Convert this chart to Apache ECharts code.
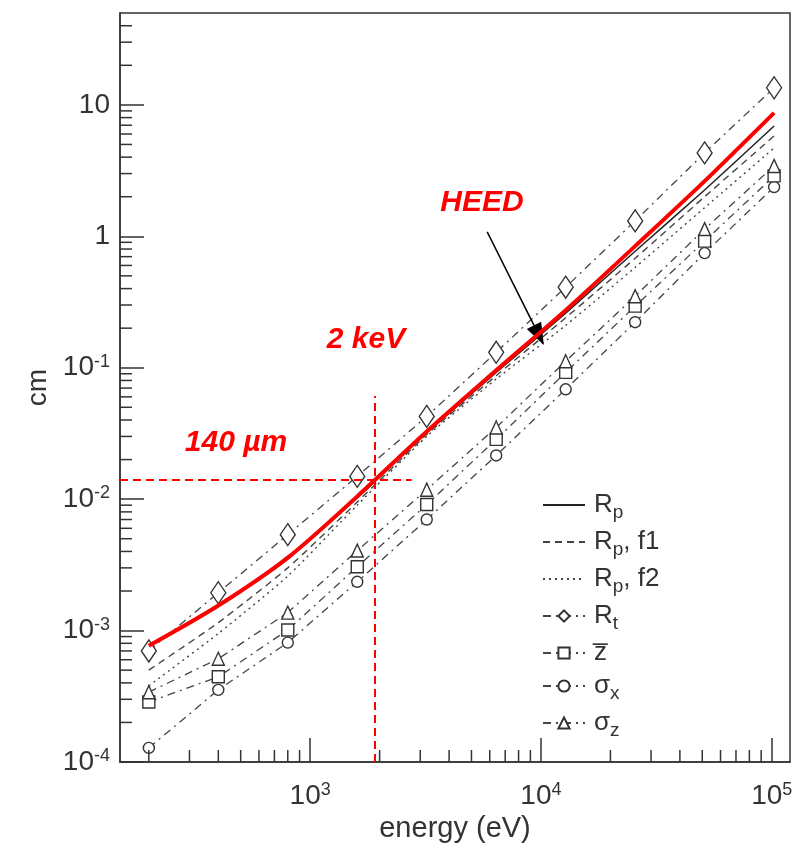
<!DOCTYPE html>
<html><head><meta charset="utf-8">
<script src="https://cdn.jsdelivr.net/npm/echarts@6/dist/echarts.min.js"></script>
<style>html,body{margin:0;padding:0;background:#fff}#c{width:802px;height:844px}</style>
</head><body><div id="c"></div>
<script>
// ---- data ----
const energy = [200, 400, 800, 1600, 3200, 6400, 12800, 25600, 51200, 102400];
const heed   = [7.66e-4, 1.55e-3, 3.59e-3, 0.0105, 0.0327, 0.0955, 0.274, 0.842, 2.63, 8.69];
const rp     = [7.6e-4, 1.52e-3, 3.5e-3, 0.0102, 0.032, 0.092, 0.26, 0.77, 2.25, 6.9];
const rpF1   = [5.0e-4, 1.15e-3, 3.0e-3, 9.5e-3, 0.031, 0.087, 0.24, 0.68, 2.0, 5.8];
const rpF2   = [3.8e-4, 9.5e-4, 2.6e-3, 9.0e-3, 0.030, 0.082, 0.21, 0.58, 1.65, 4.7];
const rt     = [7.0e-4, 1.94e-3, 5.37e-3, 0.0149, 0.0426, 0.131, 0.41, 1.31, 4.31, 13.5];
const zbar   = [2.86e-4, 4.45e-4, 1.01e-3, 3.06e-3, 9.1e-3, 0.0285, 0.0922, 0.294, 0.919, 2.88];
const sigmaX = [1.28e-4, 3.54e-4, 8.1e-4, 2.35e-3, 7.0e-3, 0.0215, 0.0685, 0.222, 0.745, 2.37];
const sigmaZ = [3.4e-4, 6.1e-4, 1.37e-3, 4.06e-3, 0.0118, 0.0351, 0.112, 0.350, 1.135, 3.43];

const xTickValues = [1e3, 1e4, 1e5];
const xTickLabels = ['10^3', '10^4', '10^5'];
const yTickValues = [1e-4, 1e-3, 1e-2, 1e-1, 1, 10];
const yTickLabels = ['10^-4', '10^-3', '10^-2', '10^-1', '1', '10'];
const xMinorTicks = [200,300,400,500,600,700,800,900,2000,3000,4000,5000,6000,7000,8000,9000,
                     20000,30000,40000,50000,60000,70000,80000,90000];
const yMinorTicks = [2e-4,3e-4,4e-4,5e-4,6e-4,7e-4,8e-4,9e-4,2e-3,3e-3,4e-3,5e-3,6e-3,7e-3,8e-3,9e-3,
                     0.02,0.03,0.04,0.05,0.06,0.07,0.08,0.09,0.2,0.3,0.4,0.5,0.6,0.7,0.8,0.9,
                     2,3,4,5,6,7,8,9,20,30,40];
const xRange = [150, 120000];
const yRange = [1e-4, 50];
const keV2 = 1900, um140 = 0.014, hLineEnd = 2750, vLineTop = 0.061;
const arrowFrom = [5850, 1.08], arrowTo = [9800, 0.177];

// ---- helpers ----
const FONT = "'Liberation Sans', Arial, Helvetica, sans-serif";
const AX = '#333';
const GRAY = '#444';
function toRich(s) { const p = s.split('^'); return p[1] ? '{m|' + p[0] + '}{s|' + p[1] + '}' : '{m|' + p[0] + '}'; }
function findLabel(vals, labels, v) {
  const i = vals.findIndex(t => Math.abs(Math.log10(t) - Math.log10(v)) < 1e-6);
  return i < 0 ? '' : toRich(labels[i]);
}
const pairs = arr => energy.map((e, i) => [e, arr[i]]);
const labelRich = {
  m: {fontSize: 28, fontFamily: FONT, color: AX, lineHeight: 30},
  s: {fontSize: 18, fontFamily: FONT, color: AX, lineHeight: 16, verticalAlign: 'top'}
};
const legendText = {
  'Rp': '{m|R}{s|p}',
  'Rp, f1': '{m|R}{s|p}{m|, f1}',
  'Rp, f2': '{m|R}{s|p}{m|, f2}',
  'Rt': '{m|R}{s|t}',
  'zbar': '{m|z\u0305}',
  'sx': '{m|\u03c3}{s|x}',
  'sz': '{m|\u03c3}{s|z}'
};

function markerSeries(name, data, symbol, size, dash) {
  return {
    name, type: 'line', data: pairs(data), symbol, symbolSize: size,
    showAllSymbol: true,
    lineStyle: {color: GRAY, width: 1.3, type: dash},
    itemStyle: {color: '#fff', borderColor: '#333', borderWidth: 1.4},
    emphasis: {disabled: true}, z: 3
  };
}
function plainLine(name, data, color, width, dash) {
  return {name, type: 'line', data: pairs(data), symbol: 'none', smooth: 0.2,
    lineStyle: {color, width, type: dash}, itemStyle: {color, opacity: 0}, emphasis: {disabled: true}, z: 2};
}

const option = {
  animation: false,
  backgroundColor: '#fff',
  grid: {left: 120, right: 12, top: 13, bottom: 82, show: true, borderColor: AX, borderWidth: 1.5,
         backgroundColor: 'transparent', containLabel: false, outerBoundsMode: 'none'},
  xAxis: {
    type: 'log', logBase: 10, min: xRange[0], max: xRange[1],
    name: 'energy (eV)', nameLocation: 'middle', nameGap: 52,
    nameTextStyle: {fontSize: 29, fontFamily: FONT, color: AX},
    axisLine: {show: true, lineStyle: {color: AX, width: 1.5}},
    axisTick: {show: true, inside: true, length: 24, lineStyle: {color: AX, width: 1.5}},
    splitLine: {show: false}, minorTick: {show: false},
    axisLabel: {margin: 19, showMinLabel: false, showMaxLabel: false,
      formatter: v => findLabel(xTickValues, xTickLabels, v), rich: labelRich}
  },
  yAxis: {
    type: 'log', logBase: 10, min: yRange[0], max: yRange[1],
    name: 'cm', nameLocation: 'middle', nameGap: 66, nameRotate: 90,
    nameTextStyle: {fontSize: 28, fontFamily: FONT, color: AX},
    axisLine: {show: true, lineStyle: {color: AX, width: 1.5}},
    axisTick: {show: true, inside: true, length: 24, lineStyle: {color: AX, width: 1.5}},
    splitLine: {show: false}, minorTick: {show: false},
    axisLabel: {margin: 10, showMaxLabel: false,
      formatter: v => findLabel(yTickValues, yTickLabels, v), rich: labelRich}
  },
  legend: {
    orient: 'vertical', left: 537, top: 487, itemGap: 7, itemWidth: 42, itemHeight: 14,
    data: [
      {name: 'Rp', itemStyle: {opacity: 0}},
      {name: 'Rp, f1', itemStyle: {opacity: 0}},
      {name: 'Rp, f2', itemStyle: {opacity: 0}},
      'Rt', 'zbar', 'sx', 'sz'],
    formatter: n => legendText[n],
    textStyle: {
      padding: [0, 0, 0, 4],
      rich: {
        m: {fontSize: 26, fontFamily: FONT, color: AX, lineHeight: 34},
        s: {fontSize: 19, fontFamily: FONT, color: AX, lineHeight: 16, verticalAlign: 'bottom'}
      }
    },
    selectedMode: false
  },
  graphic: [
    {type: 'text', x: 482, y: 203, style: {text: 'HEED', font: 'italic bold 30px ' + FONT, fill: '#ff0000', align: 'center', verticalAlign: 'middle'}},
    {type: 'text', x: 366, y: 340, style: {text: '2 keV', font: 'italic bold 30px ' + FONT, fill: '#ff0000', align: 'center', verticalAlign: 'middle'}},
    {type: 'text', x: 236, y: 443, style: {text: '140 \u00b5m', font: 'italic bold 30px ' + FONT, fill: '#ff0000', align: 'center', verticalAlign: 'middle'}}
  ],
  series: [
    plainLine('Rp, f2', rpF2, GRAY, 1.4, [2, 4]),
    plainLine('Rp, f1', rpF1, GRAY, 1.4, [7, 5]),
    plainLine('Rp', rp, '#222', 1.5, 'solid'),
    markerSeries('sx', sigmaX, 'circle', 11, [8, 5, 2, 5]),
    markerSeries('zbar', zbar, 'rect', 12, [8, 5, 2, 5]),
    markerSeries('sz', sigmaZ, 'triangle', [12, 13], [8, 5, 2, 5]),
    markerSeries('Rt', rt, 'diamond', [15, 22], [8, 5, 2, 5]),
    {name: 'HEED', type: 'line', data: pairs(heed), symbol: 'none', smooth: 0.3,
      lineStyle: {color: '#ff0000', width: 4}, z: 6,
      markLine: {
        silent: true, symbol: ['none', 'triangle'], symbolSize: [16, 22], animation: false,
        label: {show: false},
        data: [
          [{coord: [xRange[0], um140], symbol: 'none', lineStyle: {color: '#ff0000', width: 2, type: [8, 5]}}, {coord: [hLineEnd, um140], symbol: 'none'}],
          [{coord: [keV2, yRange[0]], symbol: 'none', lineStyle: {color: '#ff0000', width: 2, type: [8, 5]}}, {coord: [keV2, vLineTop], symbol: 'none'}],
          [{coord: arrowFrom, symbol: 'none', lineStyle: {color: '#000', width: 1.5, type: 'solid'}},
           {coord: arrowTo, symbol: 'triangle', itemStyle: {color: '#000'}}]
        ]
      }
    },
    {type: 'custom', silent: true, clip: false, z: 8,
      data: xMinorTicks.map(v => [v, yRange[0]]),
      renderItem: (p, api) => {
        const c = api.coord([api.value(0), api.value(1)]);
        return {type: 'line', shape: {x1: c[0], y1: c[1], x2: c[0], y2: c[1] - 12}, style: {stroke: AX, lineWidth: 1.5}};
      }},
    {type: 'custom', silent: true, clip: false, z: 8,
      data: yMinorTicks.map(v => [xRange[0], v]),
      renderItem: (p, api) => {
        const c = api.coord([api.value(0), api.value(1)]);
        return {type: 'line', shape: {x1: c[0], y1: c[1], x2: c[0] + 12, y2: c[1]}, style: {stroke: AX, lineWidth: 1.5}};
      }}
  ]
};
const chart = echarts.init(document.getElementById('c'));
chart.setOption(option);
</script>
</body></html>
